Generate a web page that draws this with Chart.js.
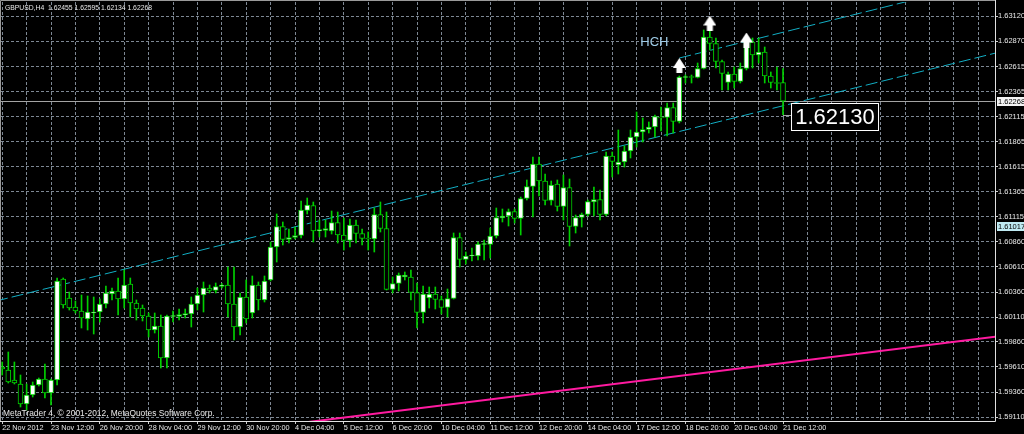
<!DOCTYPE html>
<html>
<head>
<meta charset="utf-8">
<title>GBPUSD,H4</title>
<script src="https://cdn.jsdelivr.net/npm/chart.js@4.4.0/dist/chart.umd.min.js"></script>
<style>
  html, body { margin: 0; padding: 0; background: #000; overflow: hidden; }
  canvas { display: block; background: #000; }
</style>
</head>
<body>
<canvas id="chart" width="1024" height="434"></canvas>
<script>
// H4 bars from 22 Nov 2012 04:00 to 21 Dec 2012 12:00
const opens = [
    1.59610, 1.59580, 1.59480, 1.59440, 1.59240, 1.59330, 1.59430, 1.59490, 1.59350, 1.59480,
    1.60490, 1.60300, 1.60210, 1.60170, 1.60090, 1.60150, 1.60160, 1.60240, 1.60340, 1.60370,
    1.60290, 1.60440, 1.60250, 1.60200, 1.60120, 1.59980, 1.60020, 1.59700, 1.60115, 1.60115,
    1.60130, 1.60140, 1.60240, 1.60330, 1.60400, 1.60375, 1.60415, 1.60430, 1.60240, 1.60010,
    1.60310, 1.60150, 1.60430, 1.60280, 1.60480, 1.60810, 1.61015, 1.60885, 1.60905, 1.60925,
    1.61175, 1.61225, 1.60970, 1.60975, 1.60970, 1.61055, 1.60930, 1.60875, 1.61030, 1.60945,
    1.60895, 1.60890, 1.61135, 1.60995, 1.60385, 1.60445, 1.60510, 1.60510, 1.60355, 1.60155,
    1.60300, 1.60340, 1.60285, 1.60205, 1.60295, 1.60905, 1.60685, 1.60720, 1.60720, 1.60835,
    1.60835, 1.60920, 1.61100, 1.61120, 1.61165, 1.61095, 1.61295, 1.61415, 1.61640, 1.61470,
    1.61275, 1.61440, 1.61215, 1.61405, 1.61015, 1.61105, 1.61135, 1.61260, 1.61285, 1.61135,
    1.61720, 1.61630, 1.61660, 1.61770, 1.61910, 1.61960, 1.61985, 1.62010, 1.62110, 1.62105,
    1.62205, 1.62065, 1.62505, 1.62510, 1.62505, 1.62595, 1.62910, 1.62845, 1.62665, 1.62455,
    1.62540, 1.62465, 1.62595, 1.62860, 1.62730, 1.62760, 1.62520, 1.62455, 1.62455
];
const highs = [
    1.59660, 1.59760, 1.59660, 1.59530, 1.59440, 1.59460, 1.59500, 1.59640, 1.59490, 1.60500,
    1.60500, 1.60360, 1.60270, 1.60330, 1.60320, 1.60310, 1.60290, 1.60420, 1.60400, 1.60500,
    1.60580, 1.60500, 1.60280, 1.60230, 1.60150, 1.60150, 1.60130, 1.60130, 1.60170, 1.60190,
    1.60190, 1.60310, 1.60400, 1.60460, 1.60430, 1.60450, 1.60445, 1.60610, 1.60610, 1.60350,
    1.60480, 1.60520, 1.60460, 1.60520, 1.60860, 1.61140, 1.61060, 1.60990, 1.61010, 1.61270,
    1.61300, 1.61260, 1.61080, 1.61080, 1.61170, 1.61160, 1.61100, 1.61090, 1.61080, 1.60990,
    1.60960, 1.61200, 1.61260, 1.61160, 1.60510, 1.60550, 1.60560, 1.60580, 1.60450, 1.60420,
    1.60410, 1.60410, 1.60320, 1.60390, 1.60950, 1.60950, 1.60760, 1.60800, 1.60860, 1.60880,
    1.61000, 1.61200, 1.61190, 1.61190, 1.61190, 1.61310, 1.61480, 1.61710, 1.61710, 1.61540,
    1.61470, 1.61480, 1.61530, 1.61490, 1.61130, 1.61150, 1.61280, 1.61410, 1.61380, 1.61760,
    1.61760, 1.61980, 1.61820, 1.61980, 1.62160, 1.62100, 1.62060, 1.62130, 1.62210, 1.62250,
    1.62250, 1.62520, 1.62530, 1.62530, 1.62650, 1.62980, 1.62985, 1.62900, 1.62680, 1.62560,
    1.62610, 1.62650, 1.62880, 1.62900, 1.62900, 1.62810, 1.62560, 1.62610, 1.62595
];
const lows = [
    1.59530, 1.59450, 1.59440, 1.59210, 1.59180, 1.59310, 1.59420, 1.59300, 1.59230, 1.59430,
    1.60200, 1.60180, 1.60150, 1.60000, 1.59980, 1.59940, 1.60060, 1.60200, 1.60280, 1.60130,
    1.60200, 1.60110, 1.60080, 1.60070, 1.59910, 1.59950, 1.59600, 1.59600, 1.60060, 1.60080,
    1.60100, 1.60010, 1.60180, 1.60160, 1.60350, 1.60350, 1.60400, 1.60110, 1.59880, 1.59930,
    1.60050, 1.60100, 1.60180, 1.60260, 1.60470, 1.60660, 1.60830, 1.60850, 1.60890, 1.60900,
    1.61140, 1.60860, 1.60910, 1.60910, 1.60940, 1.60850, 1.60780, 1.60810, 1.60850, 1.60830,
    1.60780, 1.60760, 1.60960, 1.60380, 1.60350, 1.60370, 1.60480, 1.60280, 1.60000, 1.60050,
    1.60200, 1.60190, 1.60140, 1.60110, 1.60290, 1.60610, 1.60640, 1.60670, 1.60680, 1.60680,
    1.60700, 1.60900, 1.61060, 1.61020, 1.61050, 1.60930, 1.61280, 1.61110, 1.61320, 1.61230,
    1.61230, 1.61170, 1.61080, 1.60820, 1.60950, 1.61010, 1.61120, 1.61120, 1.61080, 1.61120,
    1.61510, 1.61540, 1.61610, 1.61700, 1.61810, 1.61860, 1.61950, 1.61910, 1.61970, 1.61920,
    1.61950, 1.62050, 1.62450, 1.62450, 1.62500, 1.62590, 1.62780, 1.62600, 1.62380, 1.62380,
    1.62400, 1.62450, 1.62580, 1.62600, 1.62650, 1.62450, 1.62400, 1.62380, 1.62134
];
const closes = [
    1.59590, 1.59460, 1.59450, 1.59240, 1.59330, 1.59430, 1.59490, 1.59350, 1.59480, 1.60470,
    1.60230, 1.60200, 1.60170, 1.60100, 1.60160, 1.60160, 1.60240, 1.60350, 1.60370, 1.60290,
    1.60430, 1.60250, 1.60190, 1.60120, 1.59980, 1.60020, 1.59700, 1.60120, 1.60120, 1.60135,
    1.60145, 1.60240, 1.60330, 1.60400, 1.60375, 1.60415, 1.60430, 1.60240, 1.60010, 1.60310,
    1.60090, 1.60430, 1.60280, 1.60470, 1.60810, 1.61015, 1.60885, 1.60905, 1.60925, 1.61180,
    1.61230, 1.60970, 1.60985, 1.60995, 1.61055, 1.60930, 1.60875, 1.61030, 1.60945, 1.60895,
    1.60890, 1.61135, 1.60995, 1.60385, 1.60445, 1.60530, 1.60530, 1.60355, 1.60155, 1.60340,
    1.60340, 1.60285, 1.60205, 1.60295, 1.60905, 1.60685, 1.60720, 1.60725, 1.60840, 1.60845,
    1.60920, 1.61105, 1.61120, 1.61165, 1.61095, 1.61295, 1.61415, 1.61640, 1.61470, 1.61275,
    1.61430, 1.61215, 1.61405, 1.61015, 1.61105, 1.61135, 1.61265, 1.61285, 1.61135, 1.61720,
    1.61665, 1.61660, 1.61770, 1.61910, 1.61960, 1.61985, 1.62010, 1.62115, 1.62100, 1.62205,
    1.62065, 1.62510, 1.62510, 1.62505, 1.62595, 1.62910, 1.62845, 1.62665, 1.62545, 1.62540,
    1.62465, 1.62595, 1.62860, 1.62730, 1.62760, 1.62520, 1.62455, 1.62445, 1.62268
];

// time axis labels, one every 8 bars
const timeLabels = [
    '22 Nov 2012', '23 Nov 12:00', '26 Nov 20:00', '28 Nov 04:00', '29 Nov 12:00',
    '30 Nov 20:00', '4 Dec 04:00', '5 Dec 12:00', '6 Dec 20:00', '10 Dec 04:00',
    '11 Dec 12:00', '12 Dec 20:00', '14 Dec 04:00', '17 Dec 12:00', '18 Dec 20:00',
    '20 Dec 04:00', '21 Dec 12:00'
];

// price scale labels
const priceTicks = [
    1.63120, 1.62870, 1.62615, 1.62365, 1.62115, 1.61865, 1.61615, 1.61365, 1.61115,
    1.60860, 1.60610, 1.60360, 1.60110, 1.59860, 1.59610, 1.59360, 1.59110
];

// up arrows over the shoulders and the head
const arrowBars = [111, 116, 122];
const arrowPrices = [1.62625, 1.63050, 1.62880];

// trend lines as [bar, price] end points
const channelLow = [[-1, 1.60270], [163, 1.62752]];
const channelHigh = [[111, 1.62700], [163, 1.63487]];
const supportLine = [[40, 1.58983], [163, 1.59915]];

const bidPrice = 1.62268;
const markPrice = 1.61017;
const labelBar = 128, labelPrice = 1.62130;
const hchBar = 104.6, hchPrice = 1.62855;

const GREEN = '#00d000';
const CYAN = '#12aec4';
const PINK = '#ff1aa0';
const GRID = '#7d8793';
const TEXT = '#e8e8e8';
const FONT = 'Liberation Sans, Arial, sans-serif';

// little white arrow used as point style
function makeArrow() {
    const c = document.createElement('canvas');
    c.width = 13;
    c.height = 15;
    const g = c.getContext('2d');
    g.fillStyle = '#ffffff';
    g.beginPath();
    g.moveTo(6.5, 0);
    g.lineTo(13, 10);
    g.lineTo(0, 10);
    g.closePath();
    g.fill();
    g.fillRect(3.5, 10, 6, 5);
    return c;
}

function toPoints(line) {
    return line.map(p => ({x: p[0], y: p[1]}));
}

const bars = opens.map((_, i) => i);
const bodyData = bars.map(i => ({x: i, y: [opens[i], closes[i]]}));
const wickData = bars.map(i => ({x: i, y: [lows[i], highs[i]]}));
const bodyFill = bars.map(i => closes[i] >= opens[i] ? '#ffffff' : '#000000');
const arrowData = arrowBars.map((b, i) => ({x: b, y: arrowPrices[i]}));

// bid line, labels, frame and text objects
const decorPlugin = {
    id: 'decor',
    beforeDatasetsDraw(chart) {
        const {ctx, chartArea: a} = chart;
        const y = chart.scales.y;
        const py = Math.round(y.getPixelForValue(bidPrice)) + 0.5;
        ctx.save();
        ctx.strokeStyle = '#a4a4a4';
        ctx.lineWidth = 1;
        ctx.beginPath();
        ctx.moveTo(a.left, py);
        ctx.lineTo(a.right, py);
        ctx.stroke();
        ctx.restore();
    },
    afterDraw(chart) {
        const {ctx, chartArea: a} = chart;
        const x = chart.scales.x;
        const y = chart.scales.y;
        ctx.save();

        // frame
        ctx.strokeStyle = '#9a9a9a';
        ctx.lineWidth = 1;
        ctx.beginPath();
        ctx.moveTo(0.5, a.bottom);
        ctx.lineTo(0.5, 0.5);
        ctx.lineTo(a.right, 0.5);
        ctx.stroke();
        ctx.strokeStyle = '#e0e0e0';
        ctx.beginPath();
        ctx.moveTo(a.right + 0.5, 0);
        ctx.lineTo(a.right + 0.5, a.bottom + 0.5);
        ctx.lineTo(0, a.bottom + 0.5);
        ctx.stroke();

        // boxes on the price scale
        ctx.font = '7.5px ' + FONT;
        ctx.textBaseline = 'middle';
        ctx.textAlign = 'left';
        [[bidPrice, '#f4f4f4'], [markPrice, '#bfeaf2']].forEach(([v, fill]) => {
            const py = Math.round(y.getPixelForValue(v));
            ctx.fillStyle = fill;
            ctx.fillRect(a.right + 2, py - 4, 30, 9);
            ctx.fillStyle = '#000000';
            ctx.fillText(v.toFixed(5), a.right + 3, py + 0.5);
        });

        // symbol line and copyright
        const last = opens.length - 1;
        const info = [opens[last], highs[last], lows[last], closes[last]].map(v => v.toFixed(5)).join(' ');
        ctx.fillStyle = TEXT;
        ctx.font = '6.8px ' + FONT;
        ctx.fillText('GBPUSD,H4  ' + info, 5, 8);
        ctx.font = '8.4px ' + FONT;
        ctx.fillText('MetaTrader 4, \u00a9 2001-2012, MetaQuotes Software Corp.', 3, 414);

        // HCH caption
        ctx.fillStyle = '#9ecbe6';
        ctx.font = '13px ' + FONT;
        ctx.fillText('HCH', x.getPixelForValue(hchBar), y.getPixelForValue(hchPrice));

        // price label object
        const lx = x.getPixelForValue(labelBar);
        const ly = Math.round(y.getPixelForValue(labelPrice)) + 0.5;
        ctx.strokeStyle = '#a4a4a4';
        ctx.beginPath();
        ctx.moveTo(lx, ly);
        ctx.lineTo(lx + 8, ly);
        ctx.stroke();
        ctx.fillStyle = '#000000';
        ctx.fillRect(lx + 8, ly - 12, 88, 27);
        ctx.strokeStyle = '#ffffff';
        ctx.strokeRect(lx + 8.5, ly - 12, 87, 27);
        ctx.fillStyle = '#ffffff';
        ctx.font = '22px ' + FONT;
        ctx.textAlign = 'center';
        ctx.fillText(labelPrice.toFixed(5), lx + 52, ly + 2);
        ctx.restore();
    }
};

const chart = new Chart(document.getElementById('chart'), {
    type: 'bar',
    data: {
        datasets: [
            {
                type: 'scatter',
                data: arrowData,
                pointStyle: makeArrow(),
                pointRadius: 6,
                order: 0
            },
            {
                data: bodyData,
                backgroundColor: bodyFill,
                borderColor: GREEN,
                borderWidth: 1,
                borderSkipped: false,
                barThickness: 5,
                minBarLength: 1,
                grouped: false,
                order: 1
            },
            {
                data: wickData,
                backgroundColor: GREEN,
                barThickness: 1,
                grouped: false,
                order: 2
            },
            {
                type: 'line',
                data: toPoints(channelLow),
                borderColor: CYAN,
                borderWidth: 1,
                borderDash: [12, 4],
                pointRadius: 0,
                order: 3
            },
            {
                type: 'line',
                data: toPoints(channelHigh),
                borderColor: CYAN,
                borderWidth: 1,
                borderDash: [12, 4],
                pointRadius: 0,
                order: 3
            },
            {
                type: 'line',
                data: toPoints(supportLine),
                borderColor: PINK,
                borderWidth: 2,
                pointRadius: 0,
                order: 3
            }
        ]
    },
    options: {
        responsive: false,
        devicePixelRatio: 1,
        animation: false,
        events: [],
        layout: {autoPadding: false, padding: {left: 1, top: 2, right: 0, bottom: 0}},
        plugins: {legend: {display: false}, tooltip: {enabled: false}},
        scales: {
            x: {
                type: 'linear',
                offset: false,
                min: -0.197,
                max: 162.75,
                afterBuildTicks: s => {
                    s.ticks = [];
                    for (let v = 0; v <= 160; v += 4) s.ticks.push({value: v});
                },
                afterFit: s => {
                    s.height = 13;
                    s.paddingLeft = 0;
                    s.paddingRight = 0;
                },
                grid: {
                    offset: false,
                    color: GRID,
                    tickLength: 3,
                    tickColor: ctx => (ctx.tick && ctx.tick.value % 8 === 0 && ctx.tick.value <= 128) ? '#d0d0d0' : 'rgba(0,0,0,0)'
                },
                border: {display: false, dash: [3, 2]},
                ticks: {
                    color: TEXT,
                    font: {family: FONT, size: 7.3},
                    align: 'start',
                    padding: 0,
                    maxRotation: 0,
                    autoSkip: false,
                    callback: v => (v % 8 === 0 && v / 8 < timeLabels.length) ? timeLabels[v / 8] : ''
                }
            },
            y: {
                position: 'right',
                min: 1.5907,
                max: 1.6326,
                afterBuildTicks: s => { s.ticks = priceTicks.map(v => ({value: v})); },
                afterFit: s => {
                    s.width = 29;
                    s.paddingTop = 0;
                    s.paddingBottom = 0;
                },
                grid: {color: GRID, tickLength: 3, tickColor: '#d0d0d0'},
                border: {display: false, dash: [3, 2]},
                ticks: {
                    color: TEXT,
                    font: {family: FONT, size: 7.5},
                    padding: 0,
                    autoSkip: false,
                    callback: v => v.toFixed(5)
                }
            }
        }
    },
    plugins: [decorPlugin]
});
</script>
</body>
</html>
